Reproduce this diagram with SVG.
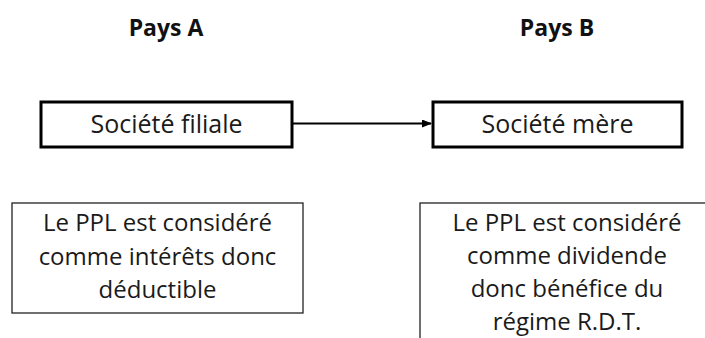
<svg xmlns="http://www.w3.org/2000/svg" width="705" height="338" viewBox="0 0 705 338">
<defs>
<style>
.t{font-family:"Open Sans","Liberation Sans",sans-serif;fill:#1a1a1a;text-anchor:middle}
.h{font-size:23px;font-weight:bold;fill:#111}
.m{font-size:25px}
.s{font-size:24px}
.box{fill:#fff;stroke:#000;stroke-width:3}
.nb{fill:#fff;stroke:#222;stroke-width:1.3}
</style>
<marker id="ah" markerWidth="10" markerHeight="8" refX="9" refY="4" orient="auto" markerUnits="userSpaceOnUse">
<path d="M0,0 L10,4 L0,8 z" fill="#000"/>
</marker>
</defs>
<rect width="705" height="338" fill="#fff"/>
<g id="headerA"><text class="t h" x="166" y="36">Pays A</text></g>
<g id="headerB"><text class="t h" x="557" y="36">Pays B</text></g>
<g id="connectors">
<line x1="292" y1="123.5" x2="431" y2="123.5" stroke="#000" stroke-width="2" marker-end="url(#ah)"/>
</g>
<g id="filiale"><rect class="box" x="41" y="102" width="251" height="45"/><text class="t m" x="166.5" y="133">Société filiale</text></g>
<g id="mere"><rect class="box" x="433" y="102" width="249" height="45"/><text class="t m" x="557.5" y="133">Société mère</text></g>
<g id="noteA"><rect class="nb" x="12" y="203" width="291" height="110"/>
<text class="t s" x="157.5" y="231">Le PPL est considéré</text>
<text class="t s" x="157.5" y="264.5">comme intérêts donc</text>
<text class="t s" x="157.5" y="298">déductible</text></g>
<g id="noteB"><rect class="nb" x="420" y="203" width="300" height="150"/>
<text class="t s" x="567" y="231">Le PPL est considéré</text>
<text class="t s" x="567" y="264">comme dividende</text>
<text class="t s" x="567" y="297">donc bénéfice du</text>
<text class="t s" x="567" y="330">régime R.D.T.</text></g>
</svg>
